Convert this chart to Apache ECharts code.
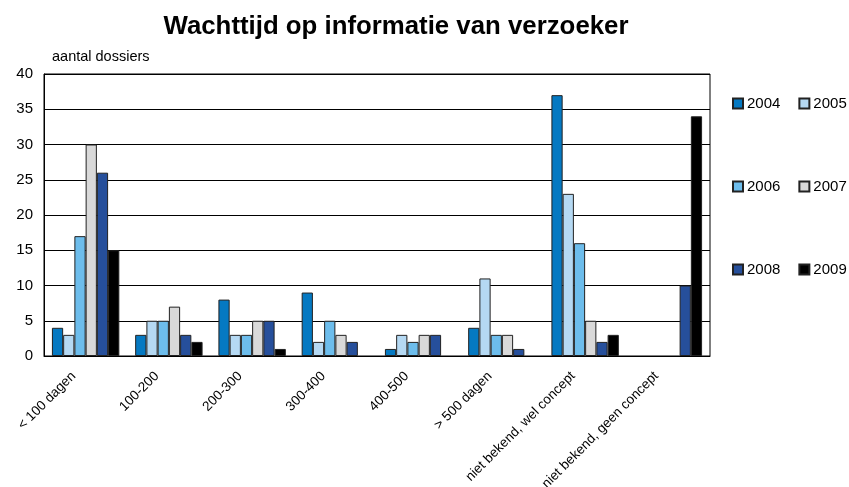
<!DOCTYPE html>
<html>
<head>
<meta charset="utf-8">
<script src="https://cdn.jsdelivr.net/npm/echarts@6/dist/echarts.min.js"></script>
<style>
    html, body { margin: 0; padding: 0; background: #fff; }
    #chart { width: 849px; height: 487px; }
</style>
</head>
<body>
<div id="chart"></div>
<script>
// categories on the x axis
const categories = ['< 100 dagen', '100-200', '200-300', '300-400', '400-500', '> 500 dagen', 'niet bekend, wel concept', 'niet bekend, geen concept'];
const years = ['2004', '2005', '2006', '2007', '2008', '2009'];
const colors = ['#0579c2', '#b5d9f3', '#6dbdec', '#d9d9d9', '#264f9b', '#000000'];

// aantal dossiers per jaar
const v2004 = [4, 3, 8, 9, 1, 4, 37, null];
const v2005 = [3, 5, 3, 2, 3, 11, 23, null];
const v2006 = [17, 5, 3, 5, 2, 3, 16, null];
const v2007 = [30, 7, 5, 3, 3, 3, 5, null];
const v2008 = [26, 3, 5, 2, 3, 1, 2, 10];
const v2009 = [15, 2, 1, null, null, null, 3, 34];
const values = [v2004, v2005, v2006, v2007, v2008, v2009];

const font = 'Liberation Sans, Arial, sans-serif';
const chart = echarts.init(document.getElementById('chart'));

const series = years.map((y, i) => ({
    name: y,
    type: 'bar',
    data: values[i],
    barGap: '0%',
    barCategoryGap: '19%',
    itemStyle: {
        color: colors[i],
        borderColor: '#222',
        borderWidth: 1
    }
}));

const legendRow = (names, top) => ({
    data: names,
    left: 732,
    top: top,
    orient: 'horizontal',
    icon: 'rect',
    itemWidth: 10,
    itemHeight: 10,
    itemGap: 18,
    padding: 0,
    textStyle: { fontFamily: font, fontSize: 15, color: '#000', padding: [0, 0, 0, -1] }
});

chart.setOption({
    animation: false,
    color: colors,
    title: {
        text: 'Wachttijd op informatie van verzoeker',
        left: 391,
        textAlign: 'center',
        top: 9,
        textStyle: { fontFamily: font, fontSize: 25.8, fontWeight: 'bold', color: '#000' }
    },
    legend: [
        legendRow(['2004', '2005'], 96),
        legendRow(['2006', '2007'], 179),
        legendRow(['2008', '2009'], 262)
    ],
    grid: {
        left: 44,
        right: 139,
        top: 74,
        bottom: 131,
        outerBoundsMode: 'none',
        containLabel: false,
        show: true,
        borderColor: '#000',
        borderWidth: 1
    },
    xAxis: {
        type: 'category',
        data: categories,
        axisLine: { lineStyle: { color: '#000' } },
        axisTick: { show: false },
        axisLabel: {
            rotate: 45,
            interval: 0,
            margin: 6,
            padding: [0, 17, 0, 0],
            fontFamily: font,
            fontSize: 13.5,
            color: '#000'
        }
    },
    yAxis: {
        type: 'value',
        name: 'aantal dossiers',
        nameLocation: 'end',
        nameGap: 10,
        nameTextStyle: { fontFamily: font, fontSize: 14.5, color: '#000', align: 'left', padding: [0, 0, 0, 8] },
        min: 0,
        max: 40,
        interval: 5,
        axisLine: { show: true, lineStyle: { color: '#000' } },
        axisTick: { show: false },
        axisLabel: { fontFamily: font, fontSize: 15, color: '#000', margin: 11 },
        splitLine: { lineStyle: { color: '#000', width: 1 } }
    },
    series: series
});
</script>
</body>
</html>
